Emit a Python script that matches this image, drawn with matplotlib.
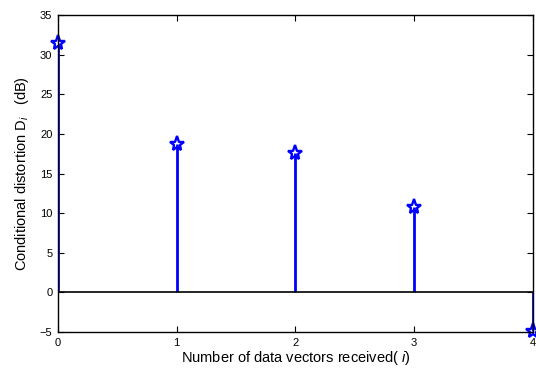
import matplotlib.pyplot as plt

plt.rcParams['font.family'] = ['Liberation Sans', 'DejaVu Sans']
plt.rcParams['mathtext.fontset'] = 'custom'
plt.rcParams['mathtext.it'] = 'Liberation Sans:italic'
plt.rcParams['mathtext.rm'] = 'Liberation Sans'

# data
vectors = [0, 1, 2, 3, 4]
distortion = [31.5, 18.8, 17.6, 10.8, -4.9]
xticks = [0, 1, 2, 3, 4]
yticks = [-5, 0, 5, 10, 15, 20, 25, 30, 35]

fig = plt.figure(figsize=(5.36, 3.69), dpi=100)
ax = fig.add_axes([0.108, 0.100, 0.886, 0.859])

markers, stems, base = ax.stem(vectors, distortion, basefmt='k-')
plt.setp(stems, color='blue', linewidth=2)
plt.setp(markers, color='blue', marker='*', markersize=11,
         markerfacecolor='none', markeredgewidth=1.7, clip_on=False)
plt.setp(base, color='black', linewidth=1.2)

ax.set_xlim(0, 4)
ax.set_ylim(-5, 35)
ax.set_xticks(xticks)
ax.set_yticks(yticks)
ax.tick_params(direction='in', top=True, right=True, labelsize=8, length=4, pad=4)
for s in ax.spines.values():
    s.set_linewidth(1.0)

ax.set_xlabel('Number of data vectors received( $\\mathit{i}$)', fontsize=10.5, labelpad=1)
ax.set_ylabel('Conditional distortion D$_{\\mathit{i}}$   (dB)', fontsize=10.5, labelpad=6)

fig.savefig('out.png', dpi=100)
